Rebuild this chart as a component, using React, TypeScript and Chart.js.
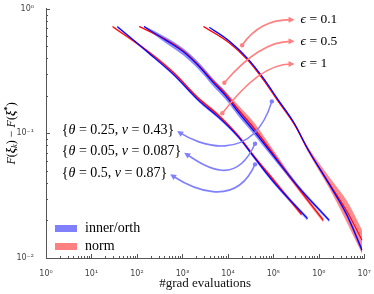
import React, { useEffect, useRef } from 'react';
import { Chart, registerables } from 'chart.js';

Chart.register(...registerables);

// ---------- axis ticks ----------
const xTickValues = [1, 10, 100, 1e3, 1e4, 1e5, 1e6, 1e7];
const xTickLabels = ['10⁰', '10¹', '10²', '10³', '10⁴', '10⁵', '10⁶', '10⁷'];
const yTickValues = [0.01, 0.1, 1];
const yTickLabels = ['10⁻²', '10⁻¹', '10⁰'];
const xTitle = '#grad evaluations';
const legendLabels = ['inner/orth', 'norm'];

// ---------- series: eps = 1, theta = 0.5 ----------
const orthX_e1 = [37, 184, 650, 2270, 6200, 16900, 39500, 97500, 565000];
const orthY_e1 = [0.72, 0.44, 0.295, 0.184, 0.135, 0.094, 0.063, 0.0414, 0.0207];
const orthLo_e1 = [0.705, 0.43, 0.288, 0.179, 0.131, 0.091, 0.0608, 0.0399, 0.0199];
const orthHi_e1 = [0.735, 0.45, 0.302, 0.189, 0.139, 0.097, 0.0652, 0.0429, 0.0214];

const normX_e1 = [29, 184, 650, 2270, 6200, 16900, 39500, 97500, 418000];
const normY_e1 = [0.72, 0.449, 0.306, 0.191, 0.14, 0.0957, 0.064, 0.043, 0.0223];
const normLo_e1 = [0.705, 0.439, 0.299, 0.186, 0.136, 0.093, 0.062, 0.0415, 0.0215];
const normHi_e1 = [0.735, 0.459, 0.313, 0.196, 0.144, 0.0985, 0.066, 0.0445, 0.0231];

// ---------- series: eps = 0.5, theta = 0.05 ----------
const orthX_e05 = [143, 433, 1070, 2270, 4800, 8800, 16900, 35700, 76000, 342000, 1700000];
const orthY_e05 = [0.72, 0.559, 0.449, 0.348, 0.255, 0.2015, 0.148, 0.1066, 0.0754, 0.0378, 0.02];
const orthLo_e05 = [0.71, 0.53, 0.42, 0.325, 0.238, 0.188, 0.138, 0.1, 0.071, 0.0365, 0.0194];
const orthHi_e05 = [0.73, 0.59, 0.478, 0.372, 0.273, 0.216, 0.158, 0.114, 0.08, 0.0392, 0.0206];

const normX_e05 = [112, 433, 1070, 2270, 4800, 8800, 16900, 35700, 76000, 342000, 1260000];
const normY_e05 = [0.72, 0.565, 0.455, 0.352, 0.26, 0.207, 0.155, 0.113, 0.078, 0.037, 0.02];
const normLo_e05 = [0.71, 0.555, 0.445, 0.344, 0.253, 0.2, 0.149, 0.107, 0.074, 0.0355, 0.0192];
const normHi_e05 = [0.73, 0.575, 0.465, 0.36, 0.268, 0.218, 0.168, 0.125, 0.085, 0.0385, 0.0208];

// ---------- series: eps = 0.1, theta = 0.25 ----------
const orthX_e01 = [3900, 10200, 27800, 59000, 125000, 294000, 565000, 1790000, 4200000, 8900000];
const orthY_e01 = [0.71, 0.559, 0.395, 0.28, 0.1875, 0.119, 0.0754, 0.0378, 0.0219, 0.0116];
const orthLo_e01 = [0.7, 0.55, 0.387, 0.274, 0.183, 0.116, 0.0735, 0.0366, 0.021, 0.011];
const orthHi_e01 = [0.72, 0.568, 0.403, 0.286, 0.192, 0.122, 0.0773, 0.039, 0.0228, 0.0122];

const normX_e01 = [2900, 10200, 27800, 59000, 125000, 294000, 565000, 1790000, 4200000, 8900000];
const normY_e01 = [0.72, 0.54, 0.385, 0.272, 0.183, 0.117, 0.075, 0.0385, 0.0235, 0.0139];
const normLo_e01 = [0.71, 0.532, 0.378, 0.267, 0.179, 0.114, 0.072, 0.035, 0.019, 0.0108];
const normHi_e01 = [0.73, 0.548, 0.392, 0.277, 0.187, 0.121, 0.079, 0.0435, 0.0285, 0.0168];

// ---------- annotations ----------
const epsValues = ['0.1', '0.5', '1'];
const epsDotX = [20600, 8350, 7550];
const epsDotY = [0.51, 0.255, 0.145];
const epsTextX = [397000, 397000, 397000];
const epsTextY = [0.818, 0.548, 0.361];

const paramTheta = ['0.25', '0.05', '0.5'];
const paramNu = ['0.43', '0.087', '0.87'];
const paramDotX = [92700, 39500, 39500];
const paramDotY = [0.1807, 0.0826, 0.0564];
const paramTextX = [2.23, 2.23, 2.23];
const paramTextY = [0.1066, 0.0714, 0.0479];

const SERIF = "'Liberation Serif', 'DejaVu Serif', serif";
const SANS = "'DejaVu Sans', 'Liberation Sans', sans-serif";

const BLUE = '#0000ff';
const RED = '#ff0000';
const BLUE_BAND = 'rgba(0,0,255,0.45)';
const RED_BAND = 'rgba(255,0,0,0.45)';
const BLUE_LIGHT = '#8080ff';
const RED_LIGHT = '#ff8080';

type Part = { t: string; s?: string; k?: number; dy?: number };

function drawRich(ctx: CanvasRenderingContext2D, parts: Part[], x: number, y: number, size: number, align: string) {
  let w = 0;
  const ws: number[] = [];
  for (const p of parts) {
    ctx.font = `${p.s || ''} ${size * (p.k || 1)}px ${SERIF}`;
    const m = ctx.measureText(p.t).width;
    ws.push(m);
    w += m;
  }
  let cx = align === 'left' ? x : align === 'center' ? x - w / 2 : x - w;
  const start = cx;
  ctx.textBaseline = 'middle';
  ctx.textAlign = 'left';
  parts.forEach((p, i) => {
    ctx.font = `${p.s || ''} ${size * (p.k || 1)}px ${SERIF}`;
    ctx.fillText(p.t, cx, y + (p.dy || 0));
    cx += ws[i];
  });
  return { left: start, right: start + w };
}

function arrowHead(ctx: CanvasRenderingContext2D, tx: number, ty: number, fx: number, fy: number, color: string) {
  const dx = tx - fx, dy = ty - fy;
  const L = Math.hypot(dx, dy) || 1;
  const ux = dx / L, uy = dy / L;
  const len = 6, hw = 3;
  ctx.fillStyle = color;
  ctx.beginPath();
  ctx.moveTo(tx, ty);
  ctx.lineTo(tx - ux * len - uy * hw, ty - uy * len + ux * hw);
  ctx.lineTo(tx - ux * len + uy * hw, ty - uy * len - ux * hw);
  ctx.closePath();
  ctx.fill();
}

const annotationPlugin = {
  id: 'annots',
  afterDatasetsDraw(chart: any) {
    const { ctx, scales } = chart;
    const xs = scales.x, ys = scales.y;
    ctx.save();
    // epsilon annotations (red)
    epsValues.forEach((e, i) => {
      const tx = xs.getPixelForValue(epsTextX[i]);
      const ty = ys.getPixelForValue(epsTextY[i]);
      ctx.fillStyle = '#000';
      drawRich(ctx, [{ t: 'ϵ', s: 'italic' }, { t: ' = ' + e }], tx, ty, 13.5, 'left');
      const px = xs.getPixelForValue(epsDotX[i]);
      const py = ys.getPixelForValue(epsDotY[i]);
      const ex = tx - 6, ey = ty;
      const cx = ex - 35, cy = ey;
      ctx.strokeStyle = RED_LIGHT;
      ctx.lineWidth = 1.6;
      ctx.beginPath();
      ctx.moveTo(px, py);
      ctx.quadraticCurveTo(cx, cy, ex - 4, ey);
      ctx.stroke();
      arrowHead(ctx, ex, ey, cx, cy, RED_LIGHT);
      ctx.fillStyle = RED_LIGHT;
      ctx.beginPath();
      ctx.arc(px, py, 2.2, 0, Math.PI * 2);
      ctx.fill();
    });
    // parameter annotations (blue)
    paramTheta.forEach((th, i) => {
      const tx = xs.getPixelForValue(paramTextX[i]);
      const ty = ys.getPixelForValue(paramTextY[i]);
      ctx.fillStyle = '#000';
      const r = drawRich(ctx, [
        { t: '{' },
        { t: 'θ', s: 'italic' },
        { t: ' = ' + th + ', ' },
        { t: 'ν', s: 'italic' },
        { t: ' = ' + paramNu[i] + '}' },
      ], tx, ty, 14, 'left');
      const px = xs.getPixelForValue(paramDotX[i]);
      const py = ys.getPixelForValue(paramDotY[i]);
      const ex = r.right + 3, ey = ty + 1;
      const c1x = px - 20, c1y = ey + 36;
      const c2x = ex + 20, c2y = ey + 13;
      ctx.strokeStyle = BLUE_LIGHT;
      ctx.lineWidth = 1.6;
      ctx.beginPath();
      ctx.moveTo(px, py);
      ctx.bezierCurveTo(c1x, c1y, c2x, c2y, ex + 3, ey + 2);
      ctx.stroke();
      arrowHead(ctx, ex, ey, c2x, c2y, BLUE_LIGHT);
      ctx.fillStyle = BLUE_LIGHT;
      ctx.beginPath();
      ctx.arc(px, py, 2.2, 0, Math.PI * 2);
      ctx.fill();
    });
    ctx.restore();
  },
};

const decorPlugin = {
  id: 'decor',
  afterDraw(chart: any) {
    const { ctx, chartArea, scales } = chart;
    const { left, bottom, top } = chartArea;
    ctx.save();
    // inward ticks
    ctx.strokeStyle = '#555';
    ctx.lineWidth = 1;
    for (let e = 0; e < 7; e++) {
      for (let m = 1; m <= 10; m++) {
        const v = m * Math.pow(10, e);
        const px = Math.round(scales.x.getPixelForValue(v)) + 0.5;
        const len = m === 1 || m === 10 ? 4 : 2;
        ctx.beginPath();
        ctx.moveTo(px, bottom);
        ctx.lineTo(px, bottom - len);
        ctx.stroke();
      }
    }
    for (let e = -2; e < 0; e++) {
      for (let m = 1; m <= 10; m++) {
        const v = m * Math.pow(10, e);
        const py = Math.round(scales.y.getPixelForValue(v)) + 0.5;
        const len = m === 1 || m === 10 ? 4 : 2;
        ctx.beginPath();
        ctx.moveTo(left, py);
        ctx.lineTo(left + len, py);
        ctx.stroke();
      }
    }
    // legend
    const colors = [BLUE_LIGHT, RED_LIGHT];
    legendLabels.forEach((lab, i) => {
      const bx = left + 9;
      const by = bottom - 33 + i * 18;
      ctx.fillStyle = colors[i];
      ctx.fillRect(bx, by, 22, 7);
      ctx.fillStyle = '#000';
      drawRich(ctx, [{ t: lab }], bx + 30, by + 3.5, 14, 'left');
    });
    // y-axis title
    ctx.fillStyle = '#000';
    ctx.translate(12, (top + bottom) / 2);
    ctx.rotate(-Math.PI / 2);
    drawRich(ctx, [
      { t: 'F', s: 'italic' },
      { t: '(' },
      { t: 'ξ', s: 'bold italic' },
      { t: 'k', s: 'italic', k: 0.7, dy: 3 },
      { t: ')' },
      { t: ' − ' },
      { t: 'F', s: 'italic' },
      { t: '(' },
      { t: 'ξ', s: 'bold italic' },
      { t: '*', s: 'bold', k: 0.75, dy: -4 },
      { t: ')' },
    ], 0, 0, 12, 'center');
    ctx.restore();
  },
};

export default function App() {
  const ref = useRef<HTMLCanvasElement | null>(null);
  useEffect(() => {
    if (!ref.current) return;
    const series = [
      { x: normX_e1, y: normY_e1, lo: normLo_e1, hi: normHi_e1, blue: false },
      { x: normX_e05, y: normY_e05, lo: normLo_e05, hi: normHi_e05, blue: false },
      { x: normX_e01, y: normY_e01, lo: normLo_e01, hi: normHi_e01, blue: false },
      { x: orthX_e1, y: orthY_e1, lo: orthLo_e1, hi: orthHi_e1, blue: true },
      { x: orthX_e05, y: orthY_e05, lo: orthLo_e05, hi: orthHi_e05, blue: true },
      { x: orthX_e01, y: orthY_e01, lo: orthLo_e01, hi: orthHi_e01, blue: true },
    ];
    const datasets: any[] = [];
    series.forEach((s) => {
      const pts = (arr: number[]) => s.x.map((xv, j) => ({ x: xv, y: arr[j] }));
      const common = {
        pointRadius: 0,
        cubicInterpolationMode: 'monotone',
      };
      const loIdx = datasets.length;
      datasets.push({
        ...common,
        label: 'lo',
        data: pts(s.lo),
        borderColor: 'transparent',
        borderWidth: 0,
        fill: false,
        order: s.blue ? 3 : 4,
      });
      datasets.push({
        ...common,
        label: 'hi',
        data: pts(s.hi),
        borderColor: 'transparent',
        borderWidth: 0,
        backgroundColor: s.blue ? BLUE_BAND : RED_BAND,
        fill: loIdx,
        order: s.blue ? 3 : 4,
      });
      datasets.push({
        ...common,
        label: s.blue ? legendLabels[0] : legendLabels[1],
        data: pts(s.y),
        borderColor: s.blue ? BLUE : RED,
        borderWidth: 1.1,
        fill: false,
        order: s.blue ? 1 : 2,
      });
    });

    const chart = new Chart(ref.current, {
      type: 'line',
      data: { datasets },
      options: {
        animation: false,
        responsive: true,
        maintainAspectRatio: false,
        layout: { padding: { left: 0, top: 5, right: 7, bottom: 0 } },
        plugins: {
          legend: { display: false },
          tooltip: { enabled: false },
        },
        scales: {
          x: {
            type: 'logarithmic',
            min: 1,
            max: 1e7,
            grid: { display: false },
            border: { display: true, color: '#555', width: 1 },
            afterBuildTicks: (scale: any) => {
              scale.ticks = xTickValues.map((v) => ({ value: v }));
            },
            afterFit: (scale: any) => {
              scale.height = 36;
            },
            ticks: {
              autoSkip: false,
              maxRotation: 0,
              padding: 3,
              color: '#444',
              font: { family: SANS, size: 8 },
              callback: (_v: any, i: number) => xTickLabels[i],
            },
            title: {
              display: true,
              text: xTitle,
              color: '#111',
              font: { family: SERIF, size: 13 },
              padding: { top: 2, bottom: 3 },
            },
          },
          y: {
            type: 'logarithmic',
            min: 0.01,
            max: 1,
            grid: { display: false },
            border: { display: true, color: '#555', width: 1 },
            afterBuildTicks: (scale: any) => {
              scale.ticks = yTickValues.map((v) => ({ value: v }));
            },
            afterFit: (scale: any) => {
              scale.width = 46;
            },
            ticks: {
              autoSkip: false,
              padding: 4,
              color: '#444',
              font: { family: SANS, size: 8 },
              callback: (_v: any, i: number) => yTickLabels[i],
            },
          },
        },
      },
      plugins: [annotationPlugin, decorPlugin],
    } as any);
    return () => chart.destroy();
  }, []);

  return (
    <div style={{ position: 'absolute', left: 0, top: 0, width: 374, height: 294, background: '#fff' }}>
      <canvas ref={ref} />
    </div>
  );
}
